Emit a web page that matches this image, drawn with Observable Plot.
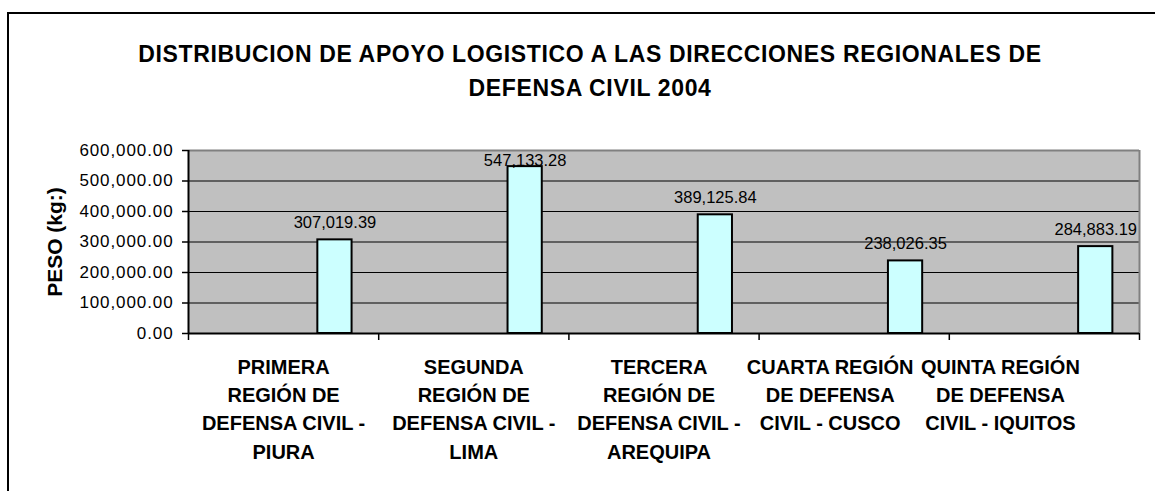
<!DOCTYPE html>
<html>
<head>
<meta charset="utf-8">
<script src="https://cdn.jsdelivr.net/npm/d3@7"></script>
<script src="https://cdn.jsdelivr.net/npm/@observablehq/plot@0.6"></script>
<style>
  html, body { margin: 0; padding: 0; background: #fff; width: 1155px; height: 491px; overflow: hidden; }
  body { position: relative; font-family: "Liberation Sans", Arial, sans-serif; }
  #border { position: absolute; left: 7px; top: 12px; width: 1200px; height: 600px;
            border-top: 2px solid #000; border-left: 2px solid #000; box-sizing: border-box; }
  #title { position: absolute; left: 0; top: 37px; width: 1180px; text-align: center;
           font-weight: bold; font-size: 23px; line-height: 34px; letter-spacing: 0.65px; color: #000; }
  #chart { position: absolute; left: 0; top: 110px; }
  #chart g[aria-label="y-axis tick label"] text { letter-spacing: 0.9px; }
</style>
</head>
<body>
<div id="border"></div>
<div id="title">DISTRIBUCION DE APOYO LOGISTICO A LAS DIRECCIONES REGIONALES DE<br>DEFENSA CIVIL 2004</div>
<div id="chart"></div>
<script>
const categories = [
  "PRIMERA\nREGIÓN DE\nDEFENSA CIVIL -\nPIURA",
  "SEGUNDA\nREGIÓN DE\nDEFENSA CIVIL -\nLIMA",
  "TERCERA\nREGIÓN DE\nDEFENSA CIVIL -\nAREQUIPA",
  "CUARTA REGIÓN\nDE DEFENSA\nCIVIL - CUSCO",
  "QUINTA REGIÓN\nDE DEFENSA\nCIVIL - IQUITOS"
];
const values = [307019.39, 547133.28, 389125.84, 238026.35, 284883.19];
const yTicks = [0, 100000, 200000, 300000, 400000, 500000, 600000];
const yLabel = "PESO (kg:)";

const table = categories.map((c, i) => ({i, cat: c, value: values[i]}));
const fmt = d3.format(",.2f");
const yMax = yTicks[yTicks.length - 1];
// Excel-style clustered slot: bar occupies this fraction of each category band
const slotStart = 0.68, slotEnd = 0.86;
const boundaries = d3.range(categories.length + 1);
// Excel keeps data labels inside the plot area: anchor no higher than 85% of the axis
const labelAnchor = d => Math.min(d.value, yMax * 0.85);
// Excel's category-label layout drifts left on the last (wide, wrapped) labels
const labelNudge = [0, 0, -5, -24, -44];

const chart = Plot.plot({
  width: 1155,
  height: 381,
  marginLeft: 188,
  marginRight: 16,
  marginTop: 40,
  marginBottom: 158,
  style: {fontFamily: "'Liberation Sans', Arial, sans-serif", color: "#000", background: "transparent"},
  x: {type: "linear", domain: [0, categories.length]},
  y: {domain: [0, yMax]},
  marks: [
    Plot.frame({fill: "#c0c0c0"}),
    Plot.ruleY(yTicks.slice(1, -1), {stroke: "#000", strokeWidth: 1}),
    Plot.rectY(table, {x1: d => d.i + slotStart, x2: d => d.i + slotEnd, y: "value",
      fill: "#ccffff", stroke: "#000", strokeWidth: 2}),
    Plot.ruleY([yMax], {stroke: "#808080", strokeWidth: 2}),
    Plot.ruleX([categories.length], {stroke: "#808080", strokeWidth: 2}),
    Plot.ruleX([0], {stroke: "#000", strokeWidth: 2}),
    Plot.ruleY([0], {stroke: "#000", strokeWidth: 2}),
    Plot.axisY({ticks: yTicks, tickFormat: fmt, tickSize: 6, tickPadding: 9, fontSize: 17,
      strokeWidth: 1.5, label: null}),
    Plot.axisX({ticks: boundaries, tickSize: 7, tickFormat: () => "", strokeWidth: 1.5, label: null}),
    ...table.map(d => Plot.text([d], {x: r => r.i + 0.5, text: "cat", frameAnchor: "bottom", lineAnchor: "top",
      dy: 20, dx: labelNudge[d.i], fontSize: 20, fontWeight: "bold", lineHeight: 1.42, fill: "#000"})),
    Plot.text(table, {x: d => d.i + (slotStart + slotEnd) / 2, y: labelAnchor, text: d => fmt(d.value),
      lineAnchor: "bottom", dy: -12, fontSize: 16.5, fill: "#000"}),
    Plot.text([yLabel], {frameAnchor: "left", text: d => d, rotate: -90, dx: -133, textAnchor: "middle",
      fontSize: 21, fontWeight: "bold", fill: "#000"})
  ]
});
document.getElementById("chart").appendChild(chart);
</script>
</body>
</html>
